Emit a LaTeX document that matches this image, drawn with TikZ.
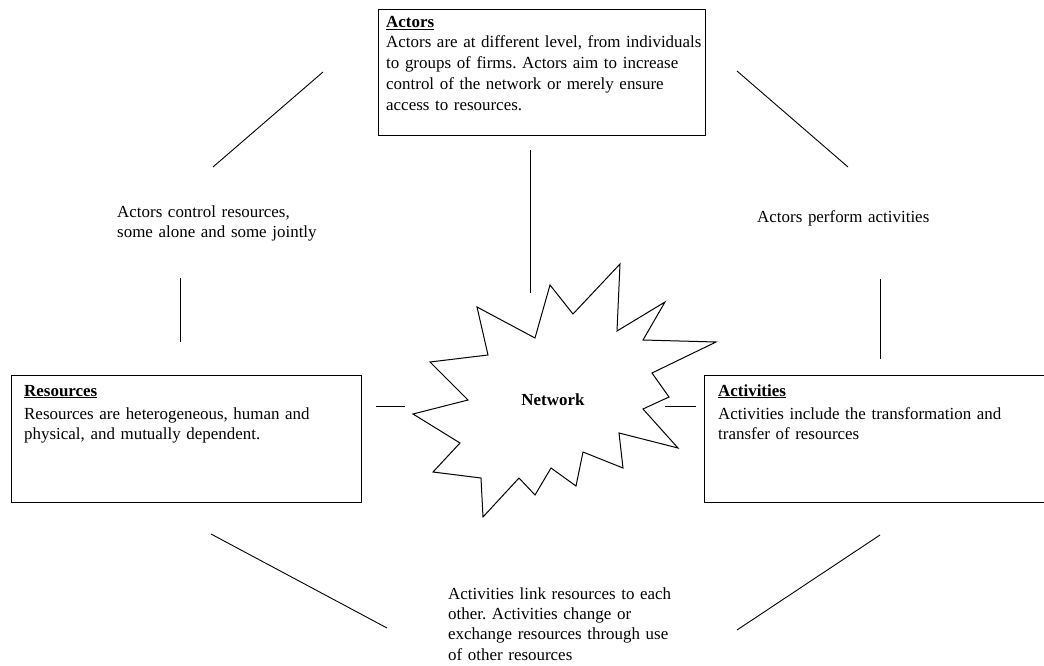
\documentclass[tikz,border=0pt]{standalone}
\usepackage{fontspec}
\setmainfont{Liberation Serif}
\frenchspacing
\begin{document}
\begin{tikzpicture}[x=1bp,y=-1bp,
  panel/.style={draw, line width=1.3bp, inner sep=0pt, anchor=north west},
  title/.style={anchor=base west, inner sep=0pt, font=\fontsize{17}{21}\selectfont\bfseries},
  body/.style={anchor=base west, inner sep=0pt, align=left, text width=360bp,
               font=\fontsize{17}{21}\selectfont},
  link/.style={line width=0.9bp}]
\useasboundingbox (0,0) rectangle (1044,666);
\clip (0,0) rectangle (1044,666);

% three boxes
\node[panel, minimum width=327bp, minimum height=126bp] (actors) at (378,9) {};
\node[panel, minimum width=350bp, minimum height=127bp] (resources) at (11,375) {};
\node[panel, minimum width=350bp, minimum height=127bp] (activities) at (704,375) {};

% box texts
\node[title] (actorsT) at (386,28) {\underline{Actors}};
\node[body] (actorsB) at (386,48) {Actors are at different level, from individuals\\
  to groups of firms. Actors aim to increase\\
  control of the network or merely ensure\\
  access to resources.};
\node[title] (resourcesT) at (24,396) {\underline{Resources}};
\node[body] (resourcesB) at (24,419) {Resources are heterogeneous, human and\\
  physical, and mutually dependent.};
\node[title] (activitiesT) at (718,396) {\underline{Activities}};
\node[body] (activitiesB) at (718,419) {Activities include the transformation and\\
  transfer of resources};

% relation labels
\node[body] (ctrl) at (117,217) {Actors control resources,\\ some alone and some jointly};
\node[body] (perform) at (757,222) {Actors perform activities};
\node[body, font=\fontsize{17}{20.5}\selectfont] (link) at (448,599)
  {Activities link resources to each\\ other. Activities change or\\
   exchange resources through use\\ of other resources};

% network burst
\draw[line width=1bp, line join=miter]
  (477,307) -- (535,338) -- (550,285) -- (573,314) -- (620,264) -- (617,331)
  -- (665,302) -- (643,340) -- (716,342) -- (652,373) -- (669,397) -- (643,409)
  -- (678,448) -- (619,433) -- (623,468) -- (583,452) -- (576,486) -- (551,468)
  -- (535,495) -- (519,478) -- (483,517) -- (481,478) -- (433,472) -- (460,443)
  -- (413,414) -- (468,400) -- (430,362) -- (488,355) -- cycle;
\node[anchor=base, inner sep=0pt, font=\fontsize{17}{21}\selectfont\bfseries]
  (network) at (553,405) {Network};

% connector end points
\coordinate (l1a) at (323,72);  \coordinate (l1b) at (213,167);
\coordinate (l2a) at (180,278); \coordinate (l2b) at (180,342);
\coordinate (l3a) at (737,71);  \coordinate (l3b) at (848,167);
\coordinate (l4a) at (880,279); \coordinate (l4b) at (880,359);
\coordinate (l5a) at (211,534); \coordinate (l5b) at (387,628);
\coordinate (l6a) at (737,630); \coordinate (l6b) at (880,535);
\coordinate (l7a) at (530,150); \coordinate (l7b) at (530,293);
\coordinate (l8a) at (376,406); \coordinate (l8b) at (405,406);
\coordinate (l9a) at (665,406); \coordinate (l9b) at (696,406);

\draw[link] (l1a) -- (l1b);
\draw[link] (l2a) -- (l2b);
\draw[link] (l3a) -- (l3b);
\draw[link] (l4a) -- (l4b);
\draw[link] (l5a) -- (l5b);
\draw[link] (l6a) -- (l6b);
\draw[link] (l7a) -- (l7b);
\draw[link] (l8a) -- (l8b);
\draw[link] (l9a) -- (l9b);
\end{tikzpicture}
\end{document}
